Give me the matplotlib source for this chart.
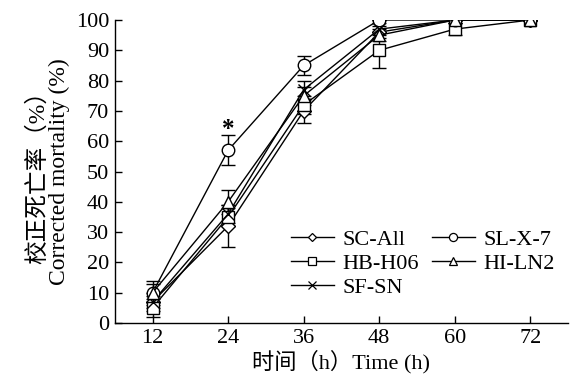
import matplotlib.pyplot as plt
from matplotlib.lines import Line2D

plt.rcParams["font.family"] = ["Liberation Serif", "Noto Sans CJK SC"]

# --------------------------------------------------------------------------
# Data
# --------------------------------------------------------------------------
hours = [12, 24, 36, 48, 60, 72]

sc_all = [7, 32, 70, 96, 100, 100]
sc_all_err = [3, 7, 4, 2, 1, 0]

sl_x7 = [10, 57, 85, 100, 100, 100]
sl_x7_err = [4, 5, 3, 0, 0, 0]

hb_h06 = [5, 35, 72, 90, 97, 100]
hb_h06_err = [3, 3, 3, 6, 2, 0]

hi_ln2 = [10, 40, 75, 95, 100, 100]
hi_ln2_err = [3, 4, 3, 2, 1, 0]

sf_sn = [7, 36, 77, 97, 100, 100]
sf_sn_err = [2, 3, 3, 2, 0, 0]

series = [
    ("SC-All", sc_all, sc_all_err, "D", 7),
    ("HB-H06", hb_h06, hb_h06_err, "s", 9),
    ("SF-SN", sf_sn, sf_sn_err, "x", 8),
    ("SL-X-7", sl_x7, sl_x7_err, "o", 9),
    ("HI-LN2", hi_ln2, hi_ln2_err, "^", 9),
]

fig = plt.figure(figsize=(5.71, 3.85), dpi=100)
ax = fig.add_axes([0.201, 0.161, 0.794, 0.787])

handles = []
for name, vals, err, marker, ms in series:
    ax.errorbar(
        hours, vals, yerr=err, color="black", lw=1.0, elinewidth=1.0,
        capsize=5, capthick=1.0, marker=marker, markersize=ms,
        markerfacecolor="white", markeredgecolor="black", markeredgewidth=1.0,
    )
    handles.append(Line2D(
        [], [], color="black", lw=1.0, marker=marker, markersize=ms * 0.65,
        markerfacecolor="white", markeredgecolor="black", markeredgewidth=0.9,
        label=name,
    ))

# significance mark
ax.text(24, 60, "*", ha="center", va="bottom", fontsize=18, fontweight="bold")

ax.set_xlim(6, 78)
ax.set_ylim(0, 100)
ax.set_xticks(hours)
ax.set_yticks(range(0, 101, 10))
ax.tick_params(direction="in", labelsize=16, length=5, width=1, pad=4)
for side in ("top", "right"):
    ax.spines[side].set_visible(False)
for side in ("left", "bottom"):
    ax.spines[side].set_linewidth(1.0)

ax.set_xlabel("时间（h）Time (h)", fontsize=16, labelpad=2)
ax.set_ylabel("校正死亡率（%）\nCorrected mortality (%)", fontsize=17,
              linespacing=1.0, labelpad=4)

ax.legend(
    handles=handles, ncol=2, frameon=False, fontsize=16,
    loc="lower right", bbox_to_anchor=(1.0, 0.04),
    handlelength=1.9, handletextpad=0.4, columnspacing=0.6,
    labelspacing=0.15, borderaxespad=0.2,
)

fig.savefig("out.png", dpi=100)
